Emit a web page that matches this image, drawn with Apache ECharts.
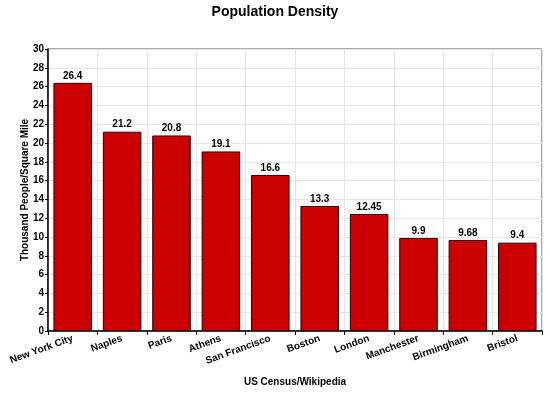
<!DOCTYPE html>
<html>
<head>
<meta charset="utf-8">
<script src="https://cdn.jsdelivr.net/npm/echarts@6/dist/echarts.min.js"></script>
<style>
  html, body { margin: 0; padding: 0; background: #fff; }
  #main { width: 550px; height: 404px; }
</style>
</head>
<body>
<div id="main"></div>
<script>
const chart = echarts.init(document.getElementById('main'));

const cities = ['New York City', 'Naples', 'Paris', 'Athens', 'San Francisco',
  'Boston', 'London', 'Manchester', 'Birmingham', 'Bristol'];
const density = [26.4, 21.2, 20.8, 19.1, 16.6, 13.3, 12.45, 9.9, 9.68, 9.4];

const font = 'Liberation Sans, Arial, sans-serif';

chart.setOption({
  animation: false,
  title: {
    text: 'Population Density',
    left: 'center',
    top: 0,
    textStyle: { fontFamily: font, fontSize: 14, fontWeight: 'bold', color: '#000' }
  },
  grid: { left: 48, right: 8, top: 49, bottom: 73 },
  xAxis: {
    type: 'category',
    data: cities,
    name: 'US Census/Wikipedia',
    nameLocation: 'middle',
    nameGap: 46,
    nameMoveOverlap: false,
    nameTextStyle: { fontFamily: font, fontSize: 10, fontWeight: 'bold', color: '#000' },
    axisLine: { lineStyle: { color: '#000', width: 1.5 } },
    axisTick: { show: true, length: 4, lineStyle: { color: '#000' } },
    axisLabel: {
      rotate: 20,
      margin: 7,
      fontFamily: font, fontSize: 10, fontWeight: 'bold', color: '#000'
    },
    splitLine: { show: true, lineStyle: { color: '#e4e4e4' } }
  },
  yAxis: {
    type: 'value',
    min: 0,
    max: 30,
    interval: 2,
    name: 'Thousand People/Square Mile',
    nameLocation: 'middle',
    nameGap: 18,
    nameMoveOverlap: false,
    nameTextStyle: { fontFamily: font, fontSize: 10, fontWeight: 'bold', color: '#000' },
    axisLine: { show: true, lineStyle: { color: '#000', width: 1.5 } },
    axisTick: { show: true, length: 3, lineStyle: { color: '#000' } },
    axisLabel: { margin: 4, fontFamily: font, fontSize: 10, fontWeight: 'bold', color: '#000' },
    splitLine: { show: true, lineStyle: { color: '#e4e4e4' } }
  },
  series: [{
    type: 'bar',
    data: density,
    barCategoryGap: '22%',
    itemStyle: { color: '#cc0000', borderColor: '#2a0000', borderWidth: 1 },
    label: {
      show: true,
      position: 'top',
      distance: 2,
      fontFamily: font, fontSize: 10, fontWeight: 'bold', color: '#000'
    }
  }],
  graphic: [{
    type: 'rect',
    shape: { x: 48, y: 49, width: 494, height: 282 },
    style: { fill: 'none', stroke: '#555', lineWidth: 1 },
    silent: true,
    z: -1
  }]
});
</script>
</body>
</html>
